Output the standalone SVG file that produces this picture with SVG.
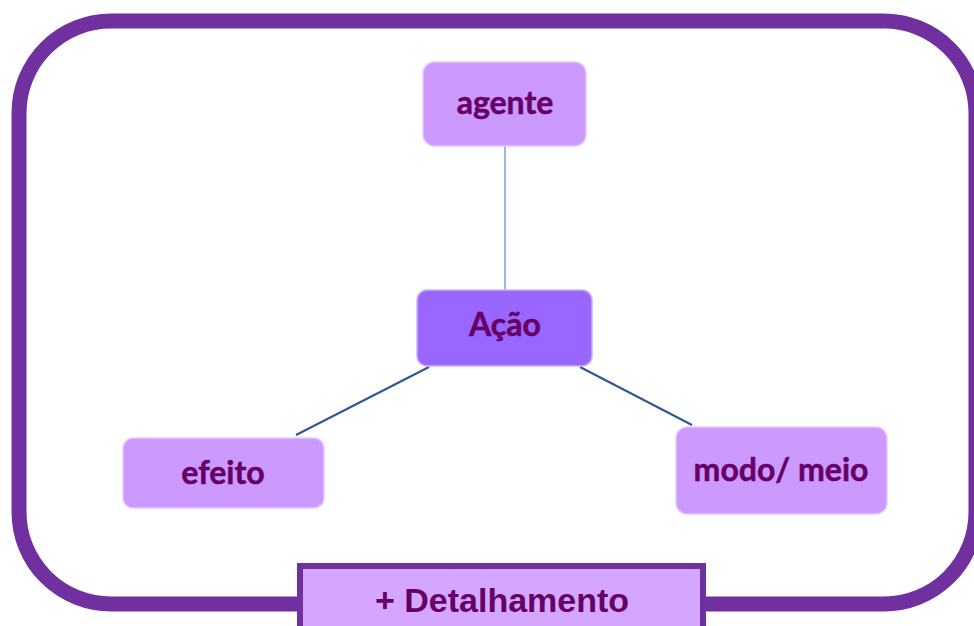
<svg xmlns="http://www.w3.org/2000/svg" width="974" height="626" viewBox="0 0 974 626">
<style>
.frame{fill:none;stroke:#7030A0;stroke-width:15}
.node{fill:#CC99FF;stroke:#E6CCFF;stroke-width:1.5}
.main{fill:#9966FF;stroke:#C9B0FF;stroke-width:1.5}
.lbl{font-family:Lato,"Open Sans",sans-serif;font-weight:bold;font-size:32px;fill:#660066;text-anchor:middle;stroke:#660066;stroke-width:0.5}
.conn{stroke:#2F5597;stroke-width:2;fill:none}
.conn1{stroke:#5B87D0;stroke-width:1.2;fill:none}
</style>
<rect width="974" height="626" fill="#FFFFFF"/>
<rect class="frame" x="19" y="21" width="957" height="583" rx="92" ry="92"/>
<g id="connectors">
<line class="conn1" x1="505" y1="146" x2="505" y2="290"/>
<line class="conn" x1="429" y1="367" x2="296" y2="435"/>
<line class="conn" x1="580" y1="367" x2="692" y2="425"/>
</g>
<g id="agente">
<rect class="node" x="423" y="62" width="163" height="84" rx="11"/>
<text class="lbl" x="505" y="114">agente</text>
</g>
<g id="acao">
<rect class="main" x="417" y="290" width="175" height="76" rx="10"/>
<text class="lbl" x="505" y="336">Ação</text>
</g>
<g id="efeito">
<rect class="node" x="123" y="438" width="201" height="70" rx="10"/>
<text class="lbl" x="223" y="484">efeito</text>
</g>
<g id="modo">
<rect class="node" x="676" y="427" width="211" height="87" rx="11"/>
<text class="lbl" x="781" y="481">modo/ meio</text>
</g>
<g id="detalhamento">
<rect x="300" y="566" width="403" height="70" fill="#D5A6FF" stroke="#7030A0" stroke-width="6"/>
<text x="502" y="612" font-family="'Liberation Sans',Arial,sans-serif" font-weight="bold" font-size="34" fill="#660066" text-anchor="middle">+ Detalhamento</text>
</g>
</svg>
